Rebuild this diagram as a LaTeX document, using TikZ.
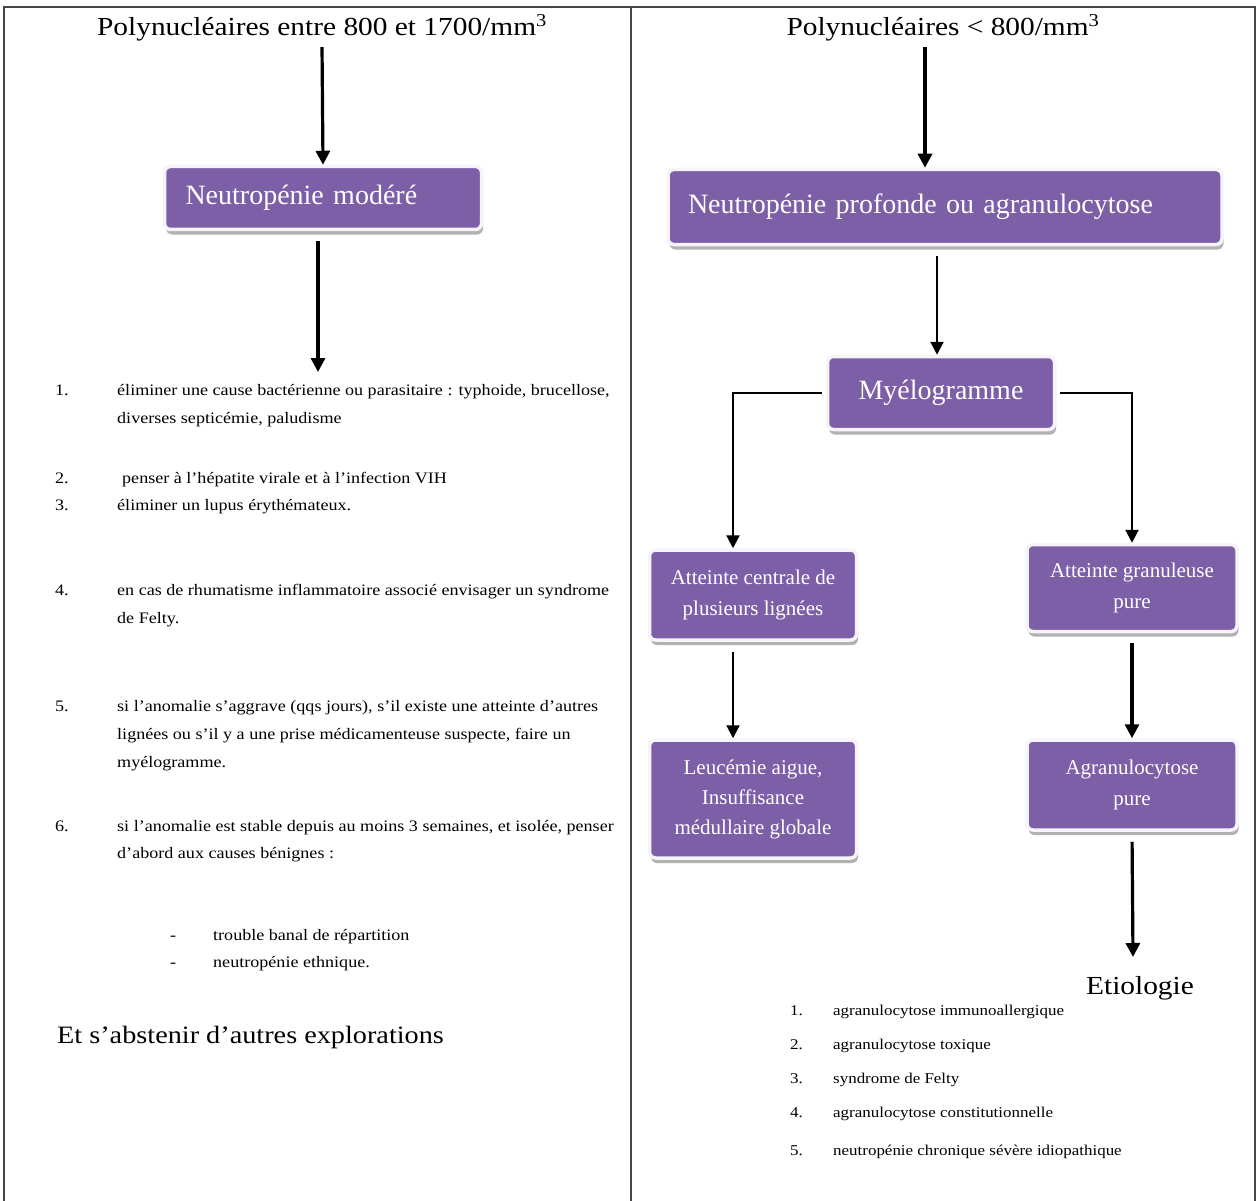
\documentclass[tikz,border=0pt]{standalone}
\usepackage{fontspec}
\setmainfont{Liberation Serif}
\newfontfamily\widefont[FakeStretch=1.13]{Liberation Serif}
\usetikzlibrary{arrows.meta,shadows,calc}
\definecolor{boxpurple}{RGB}{125,95,168}
\definecolor{boxrim}{RGB}{246,243,250}
\definecolor{framegrey}{RGB}{70,70,70}
\begin{document}
\begin{tikzpicture}[x=1pt,y=-1pt,
  frame/.style={draw=framegrey,line width=2.5pt},
  pbox/.style={draw=boxrim,line width=3.5pt,fill=boxpurple,rounded corners=6pt,
    text=white,inner sep=0pt,align=center,
    drop shadow={shadow xshift=1.5pt,shadow yshift=-5pt,fill=black!55,opacity=0.55}},
  bigtxt/.style={font=\fontsize{28}{32}\selectfont},
  smalltxt/.style={font=\fontsize{21}{31}\selectfont},
  arr/.style={draw=black,line width=3.2pt,-{Triangle[width=14pt,length=14pt]}},
  thinarr/.style={draw=black,line width=2.2pt,-{Triangle[width=13pt,length=13pt]}},
  title/.style={font=\widefont\fontsize{26}{30}\selectfont,anchor=base},
  li/.style={font=\widefont\fontsize{16}{18}\selectfont,anchor=base west,inner sep=0pt},
  eti/.style={font=\widefont\fontsize{15}{17}\selectfont,anchor=base west,inner sep=0pt}]
\useasboundingbox (0,0) rectangle (1258,1201);
\fill[white] (0,0) rectangle (1258,1201);
% frame
\draw[frame] (4,1201) -- (4,7) -- (1255,7) -- (1255,1201);
\draw[frame] (631,7) -- (631,1201);
% titles
\node[title] (t1) at (322,36) {Polynucléaires entre 800 et 1700/mm\textsuperscript{3}};
\node[title] (t2) at (943,36) {Polynucléaires < 800/mm\textsuperscript{3}};
% boxes
\node[pbox,bigtxt,minimum width=317pt,minimum height=63pt,text width=275pt,align=left] (nm) at (323,198) {Neutropénie modéré};
\node[pbox,bigtxt,minimum width=554pt,minimum height=75pt,text width=514pt,align=left] (np) at (945,207) {Neutropénie profonde ou agranulocytose};
\node[pbox,bigtxt,minimum width=227pt,minimum height=73pt] (my) at (941,393) {Myélogramme};
\node[pbox,smalltxt,minimum width=207pt,minimum height=90pt] (a1) at (753,595) {Atteinte centrale de\\plusieurs lignées};
\node[pbox,smalltxt,minimum width=210pt,minimum height=87pt] (a2) at (1132,588) {Atteinte granuleuse\\pure};
\node[pbox,smalltxt,minimum width=207pt,minimum height=118pt,font=\fontsize{21}{30}\selectfont] (leuc) at (753,799) {Leucémie aigue,\\Insuffisance\\médullaire globale};
\node[pbox,smalltxt,minimum width=210pt,minimum height=90pt] (ag) at (1132,785) {Agranulocytose\\pure};
% helper coordinates
\coordinate (k2) at (925,0);
\coordinate (k3) at (937,0);
\coordinate (k4) at (733,0);
\coordinate (p0) at (318,372);
\coordinate (p1) at (a1.north -| k4);
\coordinate (p2) at (1133,957);
% connectors
\draw[arr,shorten <=2pt] (t1.south) -- (nm.north);
\draw[arr,shorten <=10pt] (nm.south -| p0) -- (p0);
\draw[arr,shorten <=2pt] (t2.south -| k2) -- (np.north -| k2);
\draw[thinarr,shorten <=10pt] (np.south -| k3) -- (my.north -| k3);
\draw[thinarr,shorten <=4pt] (my.west) -| (p1);
\draw[thinarr,shorten <=4pt] (my.east) -| (a2.north);
\draw[thinarr,shorten <=10pt] (a1.south -| k4) -- (leuc.north -| k4);
\draw[arr,shorten <=10pt] (a2.south) -- (ag.north);
\draw[arr,shorten <=10pt] (ag.south) -- (p2);
% left list
\node[li] (n1) at (55,395) {1.};
\node[li] (l1a) at (117,395) {éliminer une cause bactérienne ou parasitaire : typhoide, brucellose,};
\node[li] (l1b) at (117,423) {diverses septicémie, paludisme};
\node[li] (n2) at (55,483) {2.};
\node[li] (l2a) at (122,483) {penser à l’hépatite virale et à l’infection VIH};
\node[li] (n3) at (55,510) {3.};
\node[li] (l3a) at (117,510) {éliminer un lupus érythémateux.};
\node[li] (n4) at (55,595) {4.};
\node[li] (l4a) at (117,595) {en cas de rhumatisme inflammatoire associé envisager un syndrome};
\node[li] (l4b) at (117,623) {de Felty.};
\node[li] (n5) at (55,711) {5.};
\node[li] (l5a) at (117,711) {si l’anomalie s’aggrave (qqs jours), s’il existe une atteinte d’autres};
\node[li] (l5b) at (117,739) {lignées ou s’il y a une prise médicamenteuse suspecte, faire un};
\node[li] (l5c) at (117,767) {myélogramme.};
\node[li] (n6) at (55,831) {6.};
\node[li] (l6a) at (117,831) {si l’anomalie est stable depuis au moins 3 semaines, et isolée, penser};
\node[li] (l6b) at (117,858) {d’abord aux causes bénignes :};
\node[li] (d1) at (170,940) {-};
\node[li] (l6c) at (213,940) {trouble banal de répartition};
\node[li] (d2) at (170,967) {-};
\node[li] (l6d) at (213,967) {neutropénie  ethnique.};
\node[font=\widefont\fontsize{25}{30}\selectfont,anchor=base west,inner sep=0pt] (abst) at (57,1043) {Et s’abstenir d’autres explorations};
% etiology
\node[font=\widefont\fontsize{26}{30}\selectfont,anchor=base,inner sep=0pt] (etio) at (1140,994) {Etiologie};
\node[eti] (e1n) at (790,1015) {1.};
\node[eti] (e1) at (833,1015) {agranulocytose immunoallergique};
\node[eti] (e2n) at (790,1049) {2.};
\node[eti] (e2) at (833,1049) {agranulocytose toxique};
\node[eti] (e3n) at (790,1083) {3.};
\node[eti] (e3) at (833,1083) {syndrome de Felty};
\node[eti] (e4n) at (790,1117) {4.};
\node[eti] (e4) at (833,1117) {agranulocytose constitutionnelle};
\node[eti] (e5n) at (790,1155) {5.};
\node[eti] (e5) at (833,1155) {neutropénie chronique sévère idiopathique};
\end{tikzpicture}
\end{document}
